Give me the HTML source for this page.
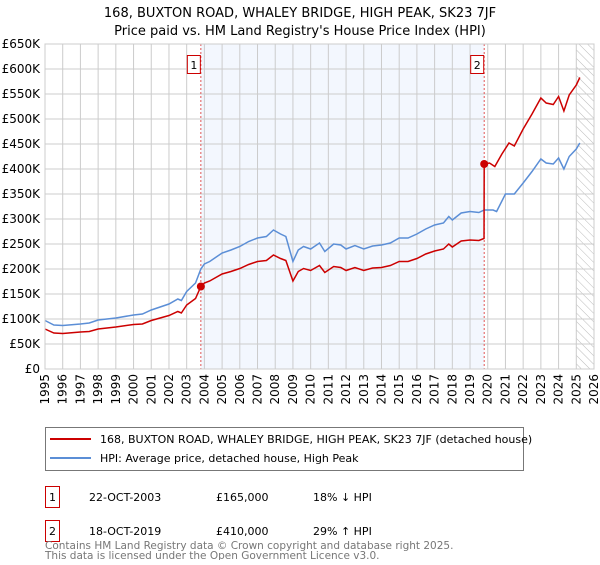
<!DOCTYPE html>
<html><head><meta charset="utf-8"><style>
body{margin:0;background:#fff;font-family:"Liberation Sans","DejaVu Sans",sans-serif;}
svg text{font-family:"DejaVu Sans","Liberation Sans",sans-serif;}
</style></head><body>
<svg id="chart" width="600" height="560" viewBox="0 0 600 560" xmlns="http://www.w3.org/2000/svg">
<defs><pattern id="hatch" width="6" height="6" patternUnits="userSpaceOnUse" patternTransform="rotate(-45)"><line x1="0" y1="0" x2="0" y2="6" stroke="#bbb" stroke-width="1"/></pattern></defs>
<text x="300" y="17" font-size="13" text-anchor="middle" fill="#000">168, BUXTON ROAD, WHALEY BRIDGE, HIGH PEAK, SK23 7JF</text>
<text x="300" y="35" font-size="13" text-anchor="middle" fill="#000">Price paid vs. HM Land Registry's House Price Index (HPI)</text>
<g id="plot"></g>
<g>
<rect x="45.5" y="427.5" width="478" height="43" fill="#fff" stroke="#777"/>
<line x1="50" y1="439" x2="91" y2="439" stroke="#cc0000" stroke-width="2"/>
<text x="100" y="443" font-size="11">168, BUXTON ROAD, WHALEY BRIDGE, HIGH PEAK, SK23 7JF (detached house)</text>
<line x1="50" y1="458" x2="91" y2="458" stroke="#5b8ed6" stroke-width="2"/>
<text x="100" y="462" font-size="11">HPI: Average price, detached house, High Peak</text>
</g>
<g font-size="11">
<rect x="45.5" y="486.5" width="14" height="21" fill="#fff" stroke="#cc0000"/><text x="52.5" y="501" text-anchor="middle">1</text>
<text x="89" y="501">22-OCT-2003</text><text x="216" y="501">£165,000</text><text x="313" y="501">18% ↓ HPI</text>
<rect x="45.5" y="520.5" width="14" height="21" fill="#fff" stroke="#cc0000"/><text x="52.5" y="535" text-anchor="middle">2</text>
<text x="89" y="535">18-OCT-2019</text><text x="216" y="535">£410,000</text><text x="313" y="535">29% ↑ HPI</text>
</g>
<text x="45" y="549" font-size="10.5" fill="#777">Contains HM Land Registry data © Crown copyright and database right 2025.</text>
<text x="45" y="559" font-size="10.5" fill="#777">This data is licensed under the Open Government Licence v3.0.</text>
</svg>
<script>
const hpiYears=[1995,1995.5,1996,1997,1997.5,1998,1999,2000,2000.5,2001,2002,2002.5,2002.7,2003,2003.5,2003.8,2004,2004.3,2005,2005.5,2006,2006.5,2007,2007.5,2007.9,2008.3,2008.6,2009,2009.3,2009.6,2010,2010.5,2010.8,2011.3,2011.7,2012,2012.5,2013,2013.5,2014,2014.5,2015,2015.5,2016,2016.5,2017,2017.5,2017.8,2018,2018.5,2019,2019.5,2019.8,2020.3,2020.5,2021,2021.5,2022,2022.5,2023,2023.3,2023.7,2024,2024.3,2024.6,2025,2025.2];
const hpiValues=[97,88,87,90,92,98,102,108,110,118,130,140,137,155,172,200,210,215,232,238,245,255,262,265,278,270,265,215,238,245,240,252,235,250,248,240,247,240,246,248,252,262,262,270,280,288,292,305,298,312,315,313,318,318,315,350,350,372,395,420,412,410,422,400,425,440,452];
const priceYears=[1995,1995.5,1996,1997,1997.5,1998,1999,2000,2000.5,2001,2002,2002.5,2002.7,2003,2003.5,2003.8,2004,2004.3,2005,2005.5,2006,2006.5,2007,2007.5,2007.9,2008.3,2008.6,2009,2009.3,2009.6,2010,2010.5,2010.8,2011.3,2011.7,2012,2012.5,2013,2013.5,2014,2014.5,2015,2015.5,2016,2016.5,2017,2017.5,2017.8,2018,2018.5,2019,2019.5,2019.79,2019.8,2020.1,2020.4,2020.8,2021.2,2021.5,2022,2022.5,2023,2023.3,2023.7,2024,2024.3,2024.6,2025,2025.2];
const priceValues=[80,72,71,74,75,80,84,89,90,97,107,115,112,128,141,165,172,176,190,195,201,209,215,217,228,221,217,176,195,201,197,207,193,205,203,197,203,197,202,203,207,215,215,221,230,236,240,250,244,256,258,257,261,410,412,405,430,452,446,480,510,542,532,529,545,516,548,568,583];
const sales=[{n:"1",year:2003.8,value:165},{n:"2",year:2019.8,value:410}];
const yTicks=[0,50,100,150,200,250,300,350,400,450,500,550,600,650];
const yTickLabels=["£0","£50K","£100K","£150K","£200K","£250K","£300K","£350K","£400K","£450K","£500K","£550K","£600K","£650K"];
const xTicks=[1995,1996,1997,1998,1999,2000,2001,2002,2003,2004,2005,2006,2007,2008,2009,2010,2011,2012,2013,2014,2015,2016,2017,2018,2019,2020,2021,2022,2023,2024,2025,2026];
const X0=45,X1=594,Y0=369,Y1=44;
const xs=y=>X0+(y-1995)/(2026-1995)*(X1-X0);
const ys=v=>Y0-v/650*(Y0-Y1);
const NS="http://www.w3.org/2000/svg";
const g=document.getElementById('plot');
function mk(t,a,p){const e=document.createElementNS(NS,t);for(const k in a)e.setAttribute(k,a[k]);(p||g).appendChild(e);return e;}
let e;
e=mk('rect',{x:xs(2003.8),y:Y1,width:xs(2019.8)-xs(2003.8),height:Y0-Y1,fill:'#f3f7fe'});


e=mk('rect',{x:xs(2025),y:Y1,width:X1-xs(2025),height:Y0-Y1,fill:'url(#hatch)'});


xTicks.forEach(t=>{
 e=mk('line',{x1:xs(t),x2:xs(t),y1:Y1,y2:Y0,stroke:'#ccc','stroke-width':1});
 
 
 e=mk('text',{x:0,y:0,'font-size':12,'text-anchor':'end',transform:`translate(${xs(t)+4},${Y0+5}) rotate(-90)`});
 e.textContent=t;
 
 
});
yTicks.forEach((t,i)=>{
 e=mk('line',{x1:X0,x2:X1,y1:ys(t),y2:ys(t),stroke:'#ccc','stroke-width':1});
 
 
 e=mk('text',{x:X0-5,y:ys(t)+4,'font-size':12,'text-anchor':'end'});
 e.textContent=yTickLabels[i];
 
 
});
sales.forEach(s=>{
 e=mk('line',{x1:xs(s.year),x2:xs(s.year),y1:Y1,y2:Y0,stroke:'#e05555','stroke-width':1,'stroke-dasharray':'2,2'});
 
 
});
e=mk('polyline',{points:hpiYears.map((y,i)=>xs(y)+','+ys(hpiValues[i])).join(' '),fill:'none',stroke:'#5b8ed6','stroke-width':1.5});


e=mk('polyline',{points:priceYears.map((y,i)=>xs(y)+','+ys(priceValues[i])).join(' '),fill:'none',stroke:'#cc0000','stroke-width':1.5});


sales.forEach(s=>{
 e=mk('circle',{cx:xs(s.year),cy:ys(s.value),r:4,fill:'#cc0000'});
 
 
 e=mk('rect',{x:xs(s.year)-13.5,y:55.5,width:13,height:18,fill:'#fff',stroke:'#cc0000'});
 
 
 e=mk('text',{x:xs(s.year)-7,y:69,'font-size':11,'text-anchor':'middle'});
 e.textContent=s.n;
 
 
});
e=mk('rect',{x:X0,y:Y1,width:X1-X0,height:Y0-Y1,fill:'none',stroke:'#ccc'});


</script>
</body></html>
